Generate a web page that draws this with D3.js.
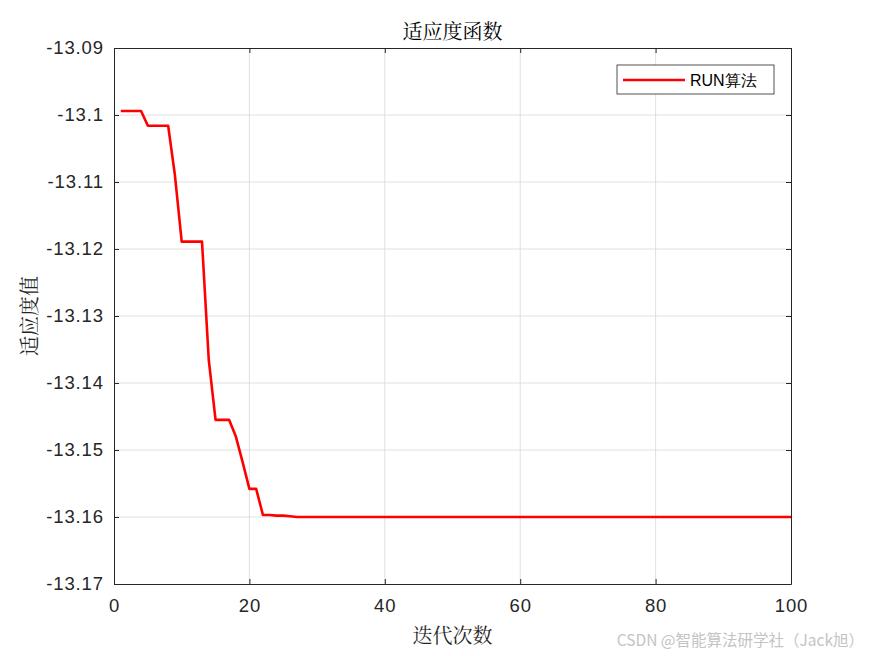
<!DOCTYPE html>
<html>
<head>
<meta charset="utf-8">
<script src="https://cdn.jsdelivr.net/npm/d3@7"></script>
<style>
  body { margin: 0; background: #fff; }
  svg { display: block; }
</style>
</head>
<body>
<svg id="chart" width="875" height="656"></svg>
<script>
// Daten: Fitnessverlauf über 100 Iterationen
const iterations = d3.range(1, 101);
const fitnessHead = [
  -13.0994, -13.0994, -13.0994, -13.0994,
  -13.1016, -13.1016, -13.1016, -13.1016,
  -13.1090, -13.1189, -13.1189, -13.1189, -13.1189,
  -13.1366, -13.1455, -13.1455, -13.1455,
  -13.1480, -13.1518, -13.1558, -13.1558,
  -13.1597, -13.1597, -13.1598, -13.1598, -13.1599
];
const fitnessTail = new Array(100 - fitnessHead.length).fill(-13.1600);
const fitness = fitnessHead.concat(fitnessTail);

const xTicks = [0, 20, 40, 60, 80, 100];
const yTicks = [-13.17, -13.16, -13.15, -13.14, -13.13, -13.12, -13.11, -13.1, -13.09];

const titleText = '适应度函数';
const xLabel = '迭代次数';
const yLabel = '适应度值';
const legendLabel = 'RUN算法';
const watermark = 'CSDN @智能算法研学社（Jack旭）';

const margin = { left: 114, right: 84, top: 48, bottom: 72 };
const W = 875, H = 656;
const innerW = W - margin.left - margin.right;
const innerH = H - margin.top - margin.bottom;

const svg = d3.select('#chart');
const g = svg.append('g').attr('transform', `translate(${margin.left},${margin.top})`);

const x = d3.scaleLinear().domain([0, 100]).range([0, innerW]);
const y = d3.scaleLinear().domain([-13.17, -13.09]).range([innerH, 0]);

const sansFont = '"Liberation Sans", Arial, sans-serif';
const cjkFont = '"Noto Serif CJK SC", "Noto Sans CJK SC", serif';

// Gitterlinien
g.append('g').selectAll('line.vx')
  .data(xTicks.slice(1, -1)).join('line')
  .attr('x1', d => x(d)).attr('x2', d => x(d))
  .attr('y1', 0).attr('y2', innerH)
  .attr('stroke', '#d8d8d8').attr('stroke-width', 0.8);
g.append('g').selectAll('line.hy')
  .data(yTicks.slice(1, -1)).join('line')
  .attr('x1', 0).attr('x2', innerW)
  .attr('y1', d => y(d)).attr('y2', d => y(d))
  .attr('stroke', '#d8d8d8').attr('stroke-width', 0.8);

// Achsen (Ticks nach innen, Box rundum)
const axisColor = '#262626';
const xAxis = g.append('g').attr('transform', `translate(0,${innerH})`)
  .call(d3.axisBottom(x).tickValues(xTicks).tickSizeInner(-5).tickSizeOuter(0).tickPadding(15)
    .tickFormat(d => String(d)));
const xAxisTop = g.append('g')
  .call(d3.axisTop(x).tickValues(xTicks).tickSizeInner(-5).tickSizeOuter(0).tickFormat(''));
const yAxis = g.append('g')
  .call(d3.axisLeft(y).tickValues(yTicks).tickSizeInner(-5).tickSizeOuter(0).tickPadding(10)
    .tickFormat(d => String(+d.toFixed(2))));
const yAxisRight = g.append('g').attr('transform', `translate(${innerW},0)`)
  .call(d3.axisRight(y).tickValues(yTicks).tickSizeInner(-5).tickSizeOuter(0).tickFormat(''));

[xAxis, xAxisTop, yAxis, yAxisRight].forEach(a => {
  a.select('.domain').attr('stroke', axisColor).attr('stroke-width', 1);
  a.selectAll('.tick line').attr('stroke', axisColor);
  a.selectAll('.tick text')
    .attr('fill', axisColor)
    .attr('font-family', sansFont)
    .attr('font-size', 18.5)
    .attr('letter-spacing', 0.9);
});

// Kurve
const line = d3.line()
  .x((d, i) => x(iterations[i]))
  .y(d => y(d));
g.append('path')
  .datum(fitness)
  .attr('fill', 'none')
  .attr('stroke', '#ff0000')
  .attr('stroke-width', 2.6)
  .attr('stroke-linejoin', 'round')
  .attr('d', line);

// Legende
const lg = g.append('g').attr('transform', `translate(${innerW - 174},17)`);
lg.append('rect')
  .attr('x', 0).attr('y', 0).attr('width', 157).attr('height', 29)
  .attr('fill', '#fff').attr('stroke', axisColor).attr('stroke-width', 0.8);
lg.append('line')
  .attr('x1', 6).attr('x2', 68).attr('y1', 15).attr('y2', 15)
  .attr('stroke', '#ff0000').attr('stroke-width', 2.6);
lg.append('text')
  .attr('x', 73).attr('y', 21)
  .attr('font-family', sansFont).attr('font-size', 16)
  .attr('fill', '#000')
  .text(legendLabel);

// Titel und Achsenbeschriftungen
svg.append('text')
  .attr('x', margin.left + innerW / 2).attr('y', 39)
  .attr('text-anchor', 'middle')
  .attr('font-family', cjkFont).attr('font-size', 20)
  .attr('fill', '#000')
  .text(titleText);
svg.append('text')
  .attr('x', margin.left + innerW / 2).attr('y', 643)
  .attr('text-anchor', 'middle')
  .attr('font-family', cjkFont).attr('font-size', 20)
  .attr('fill', '#262626')
  .text(xLabel);
svg.append('text')
  .attr('transform', `translate(37,${margin.top + innerH / 2}) rotate(-90)`)
  .attr('text-anchor', 'middle')
  .attr('font-family', cjkFont).attr('font-size', 20)
  .attr('fill', '#262626')
  .text(yLabel);

// Wasserzeichen
svg.append('text')
  .attr('x', 864).attr('y', 646)
  .attr('text-anchor', 'end')
  .attr('font-family', '"Noto Sans CJK SC", sans-serif').attr('font-size', 15.5)
  .attr('fill', '#c4c4c4')
  .text(watermark);
</script>
</body>
</html>
